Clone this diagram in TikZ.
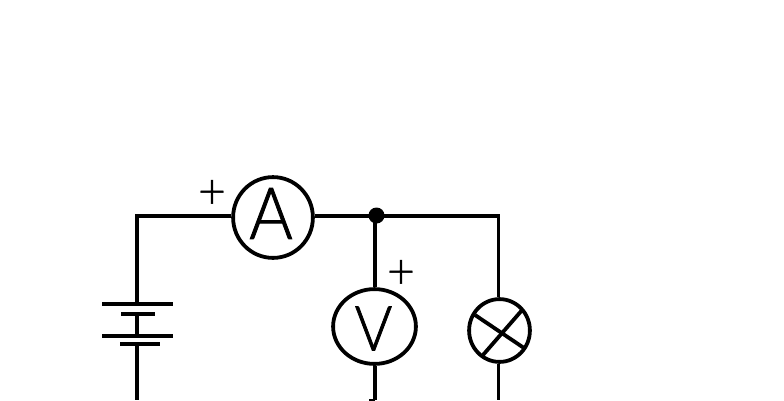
\documentclass[tikz,border=0pt]{standalone}
\usepackage{fontspec}
\setmainfont{Lato Light}
\newfontfamily\lettersfont{Lato Light}[RawFeature={embolden=1.2},FakeStretch=0.92]
\newfontfamily\plusfont{Lato Light}[RawFeature={embolden=0.8}]
\usetikzlibrary{shapes.geometric}
\tikzset{
  wire/.style={line width=3.8pt,black},
  meter/.style={draw,ellipse,line width=3.8pt,inner sep=0pt,fill=white},
  plate/.style={fill=black,inner sep=0pt,minimum height=4pt},
  dotnode/.style={circle,fill=black,inner sep=0pt,minimum size=16pt},
  letter/.style={inner sep=0pt,font=\lettersfont\fontsize{72}{72}\selectfont},
  vletter/.style={inner sep=0pt,font=\lettersfont\fontsize{62}{62}\selectfont},
  plus/.style={inner sep=0pt,font=\plusfont\fontsize{48}{48}\selectfont},
}
\begin{document}
\begin{tikzpicture}[x=1pt,y=-1pt]
\useasboundingbox (0,0) rectangle (784,400);
\fill[white] (0,0) rectangle (784,400);
\node[meter,minimum width=79.8pt,minimum height=80.8pt] (am) at (273,217.5) {};
\node[meter,minimum width=82.8pt,minimum height=74.8pt] (vm) at (374.5,326.5) {};
\node[meter,minimum width=60.8pt,minimum height=62.8pt] (lamp) at (499.5,330.5) {};
\node[letter] (atext) at (271,213.5) {A};
\node[vletter] (vtext) at (373.5,328.5) {V};
\node[plus] (pa) at (212,194) {+};
\node[plus] (pv) at (401,274) {+};
\node[dotnode] (j) at (376.5,215.5) {};
\node[plate,minimum width=71pt] (p1) at (137.5,304) {};
\node[plate,minimum width=34pt] (p2) at (138,314) {};
\node[plate,minimum width=71.5pt] (p3) at (137.3,335.5) {};
\node[plate,minimum width=40pt] (p4) at (140,344) {};
\coordinate (tl) at (137,216);
\coordinate (tr) at (498.5,216);
\coordinate (bb) at (137,400);
\coordinate (bv) at (375,400);
\coordinate (bl) at (498.5,400);
\coordinate (tickl) at (369,399.5);
\coordinate (tickr) at (375,399.5);
\draw[wire] (p1.center -| tl) -- (tl) -- (tl -| am.west);
\draw[wire] (tl -| am.east) -- (tr) -- (lamp.north -| tr);
\draw[wire] (j.center -| bv) -- (vm.north -| bv);
\draw[wire] (p2.center -| tl) -- (p3.center -| tl);
\draw[wire] (p4.center -| tl) -- (bb);
\draw[wire] (vm.south -| bv) -- (bv);
\draw[wire] (lamp.south -| bl) -- (bl);
\draw[line width=2pt] (tickl) -- (tickr);
\coordinate (xa) at (475,315); \coordinate (xb) at (524,348);
\coordinate (xc) at (483,355); \coordinate (xd) at (523,309);
\draw[wire] (xa) -- (xb);
\draw[wire] (xc) -- (xd);
\end{tikzpicture}
\end{document}
